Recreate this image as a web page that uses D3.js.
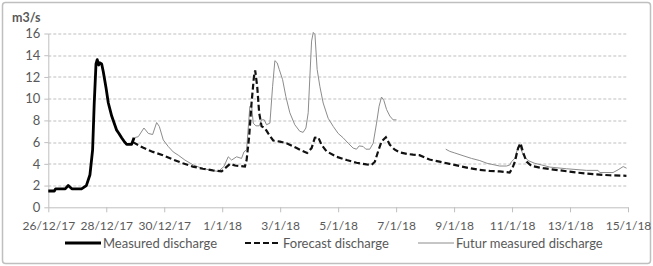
<!DOCTYPE html>
<html>
<head>
<meta charset="utf-8">
<script src="https://cdn.jsdelivr.net/npm/d3@7"></script>
<style>
  body { margin: 0; background: #fff; }
  text { font-family: Lato, "Open Sans", sans-serif; fill: #595959; }
</style>
</head>
<body>
<div id="chart"></div>
<script>
// hours since 26/12/17 00:00 and discharge in m3/s
var measuredHours = [0, 5, 6, 14, 16.5, 19.5, 27.5, 31.5, 34.5, 36.7, 38, 39.5, 40.5, 41.7, 42.8, 44.2, 45.5, 47.8, 49.7, 52.5, 56.6, 58.5, 60.7, 62.6, 64.9, 69, 71];
var measuredValues = [1.5, 1.5, 1.7, 1.7, 2.0, 1.7, 1.7, 2.0, 3.0, 5.3, 9.5, 13.2, 13.6, 13.1, 13.3, 13.2, 12.5, 11, 9.6, 8.4, 7.1, 6.8, 6.4, 6.1, 5.8, 5.8, 6.4];

var forecastHours = [70, 78.3, 86.6, 94.9, 103.2, 111.4, 119.7, 128, 136.2, 143.5, 146.4, 150.5, 154.6, 162.8, 164.2, 166.3, 168.3, 170.3, 171.3, 173, 174.6, 176.6, 179.3, 182.1, 186.2, 191.8, 197.3, 205.6, 214.3, 218, 220.7, 223.5, 226.3, 230.4, 238.7, 247, 255.2, 263.5, 267.6, 270.4, 273.1, 275.9, 279.5, 282.8, 286.9, 291.1, 297.9, 302, 307.3, 315.6, 323.9, 332.2, 340.5, 348.8, 357.1, 365.4, 373.8, 382, 384.3, 386.3, 389, 391, 393.3, 396, 400.2, 409.8, 423.6, 437.3, 451, 464.8, 478.7];
var forecastValues = [6.0, 5.5, 5.1, 4.8, 4.4, 4.05, 3.75, 3.55, 3.4, 3.3, 3.6, 4.0, 3.85, 3.75, 4.35, 6.5, 9.6, 12.05, 12.6, 11.1, 8.7, 7.45, 7.3, 6.8, 6.15, 6.05, 5.9, 5.45, 5.0, 5.45, 6.4, 6.45, 5.75, 5.15, 4.65, 4.35, 4.1, 3.95, 3.9, 4.2, 5.15, 6.05, 6.45, 5.75, 5.3, 5.05, 4.9, 4.85, 4.8, 4.4, 4.2, 4.0, 3.8, 3.6, 3.45, 3.35, 3.3, 3.2, 3.6, 4.2, 5.45, 5.9, 5.0, 4.2, 3.8, 3.6, 3.4, 3.2, 3.05, 2.95, 2.9];

// the future measured series has a gap (null) between 7/1 and 8/1
var futurHours = [71, 74.5, 79.2, 82.8, 86.4, 89.7, 91.9, 95.2, 99.3, 103.4, 107.6, 113.1, 120, 127, 135.2, 140.7, 143.8, 145.4, 149, 151.8, 155.9, 160, 162, 164.2, 166.9, 168.3, 169.7, 171.9, 174.6, 176.6, 178.8, 180.7, 183.5, 185.7, 187.6, 189.5, 191.2, 194, 196.7, 200, 204.1, 208.2, 211, 213.3, 215.2, 216.6, 218, 219.4, 220.8, 222.6, 224.9, 227.6, 231.7, 235.9, 240, 244.1, 248.3, 252.4, 255.2, 257.4, 260.7, 262.9, 266.2, 269, 271.8, 273.9, 275.9, 277.8, 280.1, 282.8, 285.5, 288.3,
  300,
  329.1, 332.4, 336.6, 343.4, 350.4, 357.3, 363.3, 373.8, 379.4, 382.2, 383.5, 386.3, 388.3, 390.5, 393.3, 397.3, 402.8, 408.4, 415.3, 429, 445.6, 455.2, 456.6, 467.6, 471.8, 476, 478.8];
var futurValues = [6.4, 6.5, 7.3, 6.8, 6.7, 7.8, 7.45, 6.2, 5.6, 5.1, 4.8, 4.35, 3.9, 3.6, 3.4, 3.3, 3.6, 3.75, 4.65, 4.35, 4.65, 4.5, 5.1, 5.3, 9.3, 9.4, 7.75, 7.5, 7.5, 8.05, 8.05, 7.6, 7.75, 11.1, 13.5, 13.3, 12.7, 11.75, 10.2, 8.7, 7.6, 7.0, 6.9, 7.3, 8.7, 12.05, 15.3, 16.1, 15.9, 12.7, 11.1, 9.6, 8.2, 7.45, 6.8, 6.4, 5.9, 5.45, 5.35, 5.65, 5.6, 5.35, 5.35, 5.9, 7.75, 9.3, 10.15, 9.85, 9.0, 8.4, 8.05, 8.05,
  null,
  5.35, 5.15, 5.0, 4.75, 4.5, 4.3, 4.05, 3.8, 3.8, 3.9, 4.2, 4.5, 5.3, 5.6, 4.8, 4.3, 4.05, 3.9, 3.7, 3.55, 3.4, 3.4, 3.2, 3.2, 3.45, 3.75, 3.6];

var yTicks = [0, 2, 4, 6, 8, 10, 12, 14, 16];
var xTickLabels = ["26/12/17", "28/12/17", "30/12/17", "1/1/18", "3/1/18", "5/1/18", "7/1/18", "9/1/18", "11/1/18", "13/1/18", "15/1/18"];
var seriesNames = ["Measured discharge", "Forecast discharge", "Futur measured discharge"];

var svgWidth = 653;
var svgHeight = 266;
var margin = { top: 33.5, right: 25, bottom: 58.7, left: 48.3 };
var width = svgWidth - margin.left - margin.right;
var height = svgHeight - margin.top - margin.bottom;

var start = new Date(2017, 11, 26);
var end = new Date(2018, 0, 15);
var toDate = h => d3.timeMinute.offset(start, Math.round(h * 60));

var svg = d3.select("#chart")
  .append("svg")
    .attr("width", svgWidth)
    .attr("height", svgHeight);

svg.append("rect")
  .attr("x", 2.5).attr("y", 2.5)
  .attr("width", svgWidth - 5).attr("height", svgHeight - 5)
  .attr("rx", 3)
  .attr("fill", "#fff")
  .attr("stroke", "#bfbfbf")
  .attr("stroke-width", 1.5);

var chartGroup = svg.append("g")
  .attr("transform", `translate(${margin.left}, ${margin.top})`);

var x = d3.scaleTime().domain([start, end]).range([0, width]);
var y = d3.scaleLinear().domain([0, 16]).range([height, 0]);

// dashed gridlines
chartGroup.append("g")
  .selectAll("line")
  .data(yTicks.slice(1))
  .enter()
  .append("line")
    .attr("x1", 0).attr("x2", width)
    .attr("y1", d => Math.round(y(d)) + 0.5)
    .attr("y2", d => Math.round(y(d)) + 0.5)
    .attr("stroke", "#bfbfbf")
    .attr("stroke-dasharray", "3,2");

var tickDates = xTickLabels.map((d, i) => d3.timeDay.offset(start, i * 2));
var bottomAxis = d3.axisBottom(x)
  .tickValues(tickDates)
  .tickFormat((d, i) => xTickLabels[i])
  .tickSize(5)
  .tickSizeOuter(0);
var xAxis = chartGroup.append("g")
  .attr("transform", `translate(0, ${height})`)
  .call(bottomAxis);

var leftAxis = d3.axisLeft(y)
  .tickValues(yTicks)
  .tickSize(4)
  .tickPadding(4)
  .tickSizeOuter(0);
var yAxis = chartGroup.append("g").call(leftAxis);

[xAxis, yAxis].forEach(a => {
  a.selectAll("path, line").attr("stroke", "#bfbfbf");
  a.selectAll("text")
    .style("font-family", "Lato, sans-serif")
    .style("font-size", "13px")
    .attr("fill", "#595959");
});
xAxis.selectAll("text")
  .style("font-size", "12px")
  .attr("dy", "1.2em");

var line = d3.line()
  .defined(d => d.v != null)
  .x(d => x(toDate(d.h)))
  .y(d => y(d.v));

var futurData = futurHours.map((h, i) => ({ h: h, v: futurValues[i] }));
var forecastData = forecastHours.map((h, i) => ({ h: h, v: forecastValues[i] }));
var measuredData = measuredHours.map((h, i) => ({ h: h, v: measuredValues[i] }));

chartGroup.append("path")
  .datum(futurData)
  .attr("d", line)
  .attr("fill", "none")
  .attr("stroke", "#8c8c8c")
  .attr("stroke-width", 1);

chartGroup.append("path")
  .datum(forecastData)
  .attr("d", line)
  .attr("fill", "none")
  .attr("stroke", "#111")
  .attr("stroke-width", 2.2)
  .attr("stroke-dasharray", "6,3");

chartGroup.append("path")
  .datum(measuredData)
  .attr("d", line)
  .attr("fill", "none")
  .attr("stroke", "#000")
  .attr("stroke-width", 2.8)
  .attr("stroke-linejoin", "round");

svg.append("text")
  .attr("x", 12)
  .attr("y", 22)
  .style("font-size", "12.5px")
  .style("font-weight", "bold")
  .text("m3/s");

// legend
var legendX = [65, 245, 418];
var legendStyles = [
  { stroke: "#000", width: 2.8, dash: null },
  { stroke: "#111", width: 2.2, dash: "6,3" },
  { stroke: "#8c8c8c", width: 1, dash: null }
];
var legend = svg.append("g").attr("transform", "translate(0, 243)");
seriesNames.forEach((name, i) => {
  legend.append("line")
    .attr("x1", legendX[i]).attr("x2", legendX[i] + 36)
    .attr("y1", 0).attr("y2", 0)
    .attr("stroke", legendStyles[i].stroke)
    .attr("stroke-width", legendStyles[i].width)
    .attr("stroke-dasharray", legendStyles[i].dash);
  legend.append("text")
    .attr("x", legendX[i] + 38)
    .attr("y", 4.5)
    .style("font-size", "13px")
    .text(name);
});
</script>
</body>
</html>
